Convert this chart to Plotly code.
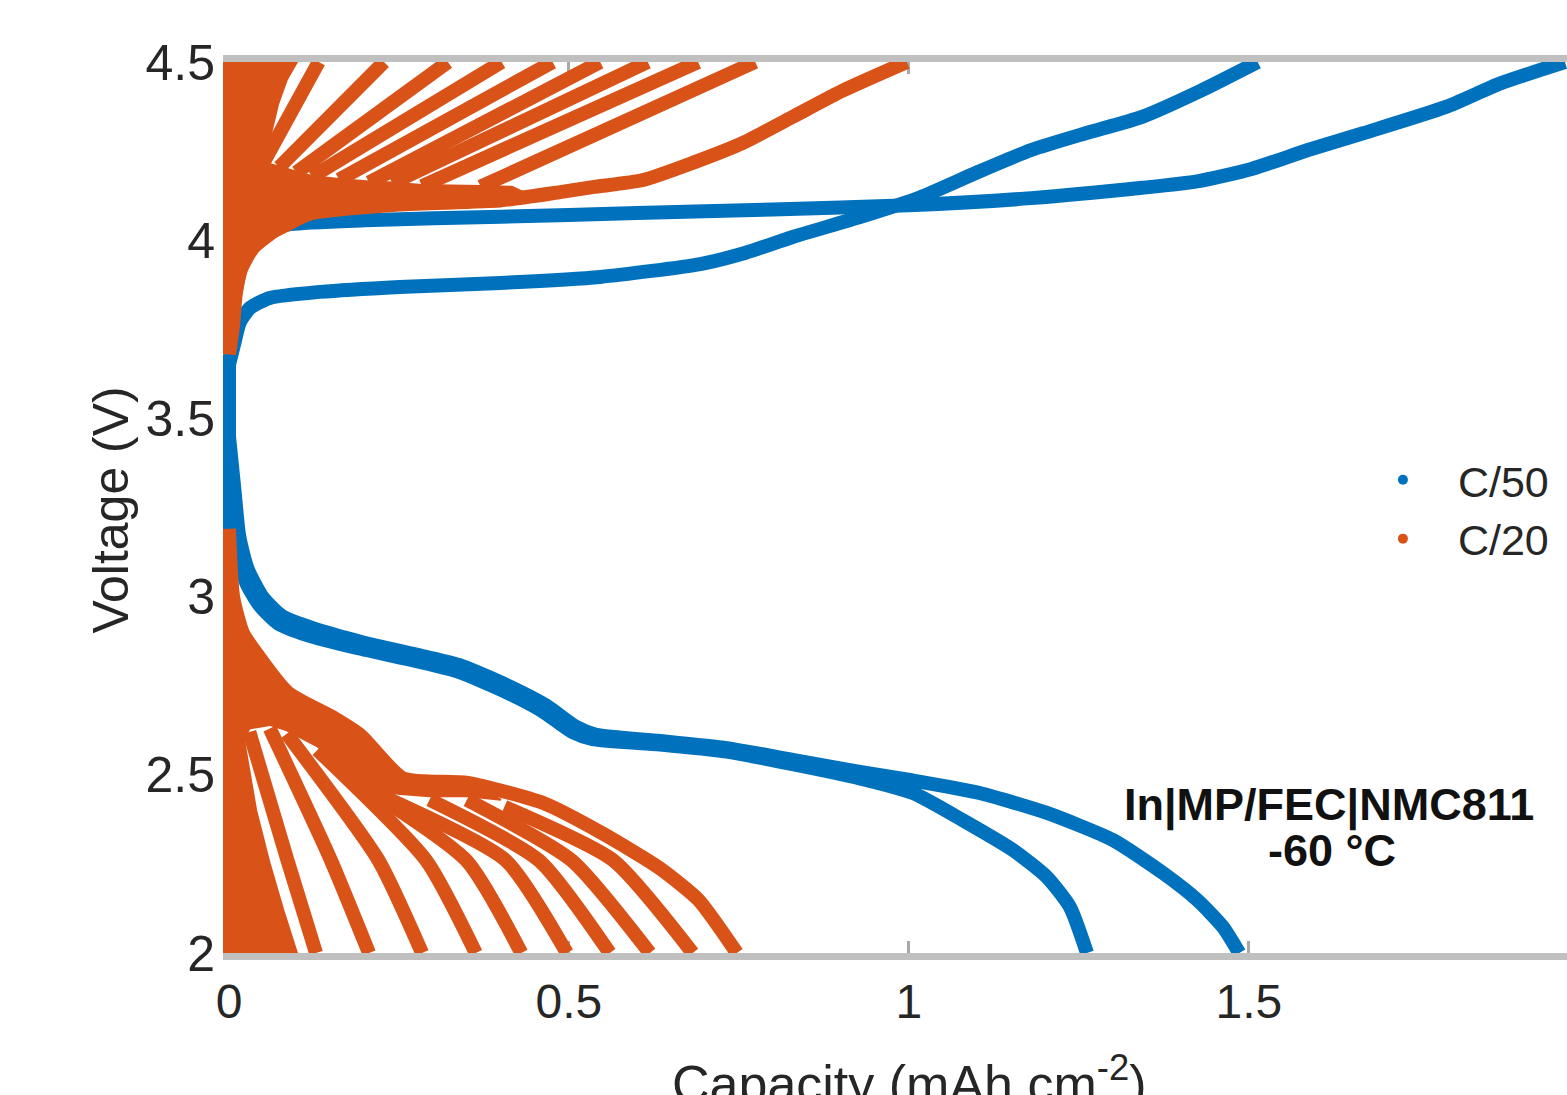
import plotly.graph_objects as go

# ---------------- data ----------------
V_MAX = 4.5
V_MIN = 2.0

# C/50 : two charge and two discharge curves
C50_CHG1_Q = [0, 0.009, 0.016, 0.031, 0.06, 0.134, 0.251, 0.399, 0.546, 0.693, 0.76, 0.829,
              0.928, 1.016, 1.10, 1.18, 1.26, 1.343, 1.43, 1.513]
C50_CHG1_V = [3.65, 3.72, 3.77, 3.81, 3.838, 3.855, 3.869, 3.88, 3.897, 3.933, 3.965, 4.009,
              4.065, 4.12, 4.19, 4.253, 4.30, 4.346, 4.42, 4.5]
C50_CHG2_Q = [0, 0.005, 0.015, 0.04, 0.09, 0.2, 0.4, 0.6, 0.8, 1.0, 1.18, 1.343, 1.424, 1.504,
              1.587, 1.668, 1.79, 1.87, 1.965]
C50_CHG2_V = [3.68, 3.85, 3.97, 4.02, 4.045, 4.056, 4.066, 4.076, 4.086, 4.098, 4.118, 4.147,
              4.165, 4.2, 4.253, 4.3, 4.374, 4.44, 4.5]
C50_DIS1_Q = [0, 0.008, 0.015, 0.027, 0.049, 0.078, 0.122, 0.196, 0.269, 0.343, 0.416, 0.466,
              0.51, 0.54, 0.634, 0.732, 0.829, 0.928, 1.006, 1.104, 1.203, 1.3, 1.374, 1.424,
              1.462, 1.486]
C50_DIS1_V = [3.45, 3.3, 3.17, 3.08, 3.0, 2.945, 2.912, 2.872, 2.84, 2.805, 2.745, 2.695, 2.635,
              2.612, 2.595, 2.575, 2.542, 2.508, 2.484, 2.449, 2.393, 2.317, 2.224, 2.149,
              2.073, 2.0]
C50_DIS2_Q = [0, 0.008, 0.015, 0.025, 0.045, 0.072, 0.115, 0.19, 0.262, 0.336, 0.41, 0.46,
              0.505, 0.535, 0.634, 0.732, 0.829, 0.928, 1.006, 1.079, 1.153, 1.203, 1.237, 1.262]
C50_DIS2_V = [3.40, 3.25, 3.12, 3.04, 2.975, 2.925, 2.892, 2.855, 2.825, 2.79, 2.73, 2.68, 2.62,
              2.6, 2.585, 2.565, 2.53, 2.49, 2.449, 2.373, 2.289, 2.213, 2.129, 2.0]
C50_REST_V = [3.19, 3.68]

# C/20 : densely overplotted early cycles (outline of the solid region)
C20_CHG_DENSE_Q = [0, 0.012, 0.016, 0.026, 0.046, 0.085, 0.13, 0.2, 0.3, 0.4, 0.45, 0.416,
                   0.37, 0.284, 0.24, 0.206, 0.162, 0.122, 0.099, 0.074, 0.05, 0.062, 0.072,
                   0.085, 0.1, 0]
C20_CHG_DENSE_V = [3.68, 3.74, 3.83, 3.925, 3.99, 4.025, 4.07, 4.085, 4.09, 4.095, 4.12, 4.15,
                   4.152, 4.155, 4.162, 4.165, 4.172, 4.18, 4.192, 4.207, 4.218, 4.3, 4.38,
                   4.45, 4.5, 4.5]
C20_DIS_DENSE_Q = [0, 0.006, 0.02, 0.037, 0.087, 0.154, 0.194, 0.256, 0.351, 0.40, 0.35, 0.295,
                   0.225, 0.17, 0.13, 0.085, 0.06, 0.03, 0.022, 0.04, 0.06, 0.08, 0.1, 0]
C20_DIS_DENSE_V = [3.19, 3.0, 2.9, 2.85, 2.73, 2.66, 2.61, 2.49, 2.477, 2.43, 2.44, 2.44, 2.45,
                   2.51, 2.58, 2.625, 2.64, 2.63, 2.6, 2.4, 2.25, 2.12, 2.0, 2.0]

# C/20 : charge curves leaving the dense region (split point -> end at V_MAX)
C20_CHG_END_Q = [0.132, 0.228, 0.322, 0.401, 0.476, 0.546, 0.616, 0.690, 0.774]
C20_CHG_SPLIT_Q = [0.05, 0.074, 0.099, 0.122, 0.162, 0.206, 0.24, 0.284, 0.37]
C20_CHG_SPLIT_V = [4.215, 4.205, 4.19, 4.178, 4.17, 4.162, 4.16, 4.152, 4.15]
C20_CHG_LONG_Q = [0, 0.006, 0.01, 0.018, 0.036, 0.07, 0.12, 0.25, 0.4, 0.487, 0.535, 0.609,
                  0.682, 0.756, 0.829, 0.903, 0.997]
C20_CHG_LONG_V = [3.68, 3.76, 3.85, 3.92, 3.98, 4.03, 4.075, 4.1, 4.112, 4.135, 4.149, 4.169,
                  4.217, 4.273, 4.346, 4.42, 4.5]

# C/20 : discharge curves leaving the dense region (split -> mid -> end at V_MIN)
C20_DIS_END_Q = [0.128, 0.206, 0.284, 0.363, 0.430, 0.497, 0.560, 0.619, 0.682]
C20_DIS_SPLIT_Q = [0.03, 0.06, 0.085, 0.13, 0.17, 0.225, 0.295, 0.35, 0.405]
C20_DIS_SPLIT_V = [2.62, 2.63, 2.615, 2.57, 2.5, 2.44, 2.43, 2.43, 2.41]
C20_DIS_MID_Q = [0.086, 0.15, 0.22, 0.29, 0.349, 0.407, 0.456, 0.504, 0.565]
C20_DIS_MID_V = [2.26, 2.26, 2.26, 2.26, 2.26, 2.26, 2.26, 2.26, 2.26]
C20_DIS_LONG_Q = [0, 0.006, 0.02, 0.037, 0.087, 0.154, 0.194, 0.256, 0.351, 0.463, 0.548,
                  0.632, 0.69, 0.747]
C20_DIS_LONG_V = [3.19, 3.0, 2.9, 2.85, 2.73, 2.66, 2.61, 2.49, 2.477, 2.42, 2.337, 2.24,
                  2.15, 2.0]
C20_REST_LOW_V = [2.0, 3.19]
C20_REST_HIGH_V = [3.68, 4.5]

SERIES_NAMES = ["C/50", "C/20"]
X_TICKS = [0, 0.5, 1, 1.5]
X_TICK_TEXT = ["0", "0.5", "1", "1.5"]
Y_TICKS = [2, 2.5, 3, 3.5, 4, 4.5]
Y_TICK_TEXT = ["2", "2.5", "3", "3.5", "4", "4.5"]

# ---------------- figure ----------------
BLUE = "#0072BD"
ORANGE = "#D95319"
AXIS_GRAY = "#C0C0C0"
FONT = "Liberation Sans, Arial, Helvetica, sans-serif"
W_BLUE = 14
W_ORANGE = 14

fig = go.Figure()


def add_curve(q, v, color, width, shape="spline"):
    fig.add_trace(go.Scatter(
        x=q, y=v, mode="lines",
        line=dict(color=color, width=width, shape=shape, smoothing=0.6),
        showlegend=False, hoverinfo="skip"))


def add_region(q, v, color):
    fig.add_trace(go.Scatter(
        x=q, y=v, mode="lines", fill="toself", fillcolor=color,
        line=dict(color=color, width=2), showlegend=False, hoverinfo="skip"))


# C/50 (blue)
add_curve([0, 0], C50_REST_V, BLUE, W_BLUE, "linear")
add_curve(C50_CHG1_Q, C50_CHG1_V, BLUE, W_BLUE)
add_curve(C50_CHG2_Q, C50_CHG2_V, BLUE, W_BLUE)
add_curve(C50_DIS1_Q, C50_DIS1_V, BLUE, W_BLUE)
add_curve(C50_DIS2_Q, C50_DIS2_V, BLUE, W_BLUE)

# C/20 (orange)
add_region(C20_CHG_DENSE_Q, C20_CHG_DENSE_V, ORANGE)
add_region(C20_DIS_DENSE_Q, C20_DIS_DENSE_V, ORANGE)
add_curve([0, 0], C20_REST_LOW_V, ORANGE, W_ORANGE, "linear")
add_curve([0, 0], C20_REST_HIGH_V, ORANGE, W_ORANGE, "linear")
add_curve(C20_CHG_LONG_Q, C20_CHG_LONG_V, ORANGE, W_ORANGE)
for i in range(len(C20_CHG_END_Q)):
    add_curve([C20_CHG_SPLIT_Q[i], C20_CHG_END_Q[i]], [C20_CHG_SPLIT_V[i], V_MAX],
              ORANGE, W_ORANGE, "linear")
add_curve(C20_DIS_LONG_Q, C20_DIS_LONG_V, ORANGE, W_ORANGE)
for i in range(len(C20_DIS_END_Q)):
    add_curve([C20_DIS_SPLIT_Q[i], C20_DIS_MID_Q[i], C20_DIS_END_Q[i]],
              [C20_DIS_SPLIT_V[i], C20_DIS_MID_V[i], V_MIN], ORANGE, W_ORANGE)

# legend entries (dots)
for name, color in zip(SERIES_NAMES, [BLUE, ORANGE]):
    fig.add_trace(go.Scatter(x=[None], y=[None], mode="markers", name=name,
                             marker=dict(color=color, size=10), showlegend=True))

X_MIN = -0.0088
X_MAX = 1.968

fig.update_layout(
    width=1567, height=1095,
    margin=dict(l=223, r=0, t=62, b=142),
    paper_bgcolor="white", plot_bgcolor="white",
    font=dict(family=FONT, color="#262626"),
    showlegend=True,
    legend=dict(x=0.837, y=0.498, xanchor="left", yanchor="middle",
                bgcolor="rgba(0,0,0,0)", font=dict(size=43, color="#262626"),
                itemwidth=100, tracegroupgap=0),
    xaxis=dict(range=[X_MIN, X_MAX], tickvals=X_TICKS, ticktext=X_TICK_TEXT,
               showline=True, linecolor=AXIS_GRAY, linewidth=7, mirror="ticks",
               ticks="inside", ticklen=12, tickwidth=3, tickcolor="#A8A8A8",
               showgrid=False, zeroline=False, layer="below traces",
               tickfont=dict(size=48, color="#262626"), ticklabelstandoff=0),
    yaxis=dict(range=[V_MIN, V_MAX], tickvals=Y_TICKS, ticktext=Y_TICK_TEXT,
               showline=False,
               ticks="inside", ticklen=12, tickwidth=3, tickcolor="#A8A8A8",
               showgrid=False, zeroline=False, layer="below traces",
               tickfont=dict(size=50, color="#262626"), ticklabelstandoff=7),
)

# left axis line at zero capacity (drawn beneath the data)
fig.add_shape(type="line", xref="x", yref="y", x0=0, x1=0, y0=V_MIN, y1=V_MAX,
              line=dict(color=AXIS_GRAY, width=7), layer="below")

fig.add_annotation(text="Capacity (mAh cm<sup>-2</sup>)", xref="x", yref="paper",
                   x=1.0, y=-0.143, xanchor="center", yanchor="middle", showarrow=False,
                   font=dict(size=52, color="#262626"))
fig.add_annotation(text="Voltage (V)", xref="paper", yref="paper",
                   x=-0.083, y=0.497, xanchor="center", yanchor="middle", showarrow=False,
                   textangle=-90, font=dict(size=50, color="#262626"))
fig.add_annotation(text="<b>In|MP/FEC|NMC811</b>", xref="x", yref="y",
                   x=1.618, y=2.415, xanchor="center", yanchor="middle", showarrow=False,
                   font=dict(size=45, color="#111111"))
fig.add_annotation(text="<b>-60 °C</b>", xref="x", yref="y",
                   x=1.622, y=2.287, xanchor="center", yanchor="middle", showarrow=False,
                   font=dict(size=45, color="#111111"))

fig.write_html("out.html")
